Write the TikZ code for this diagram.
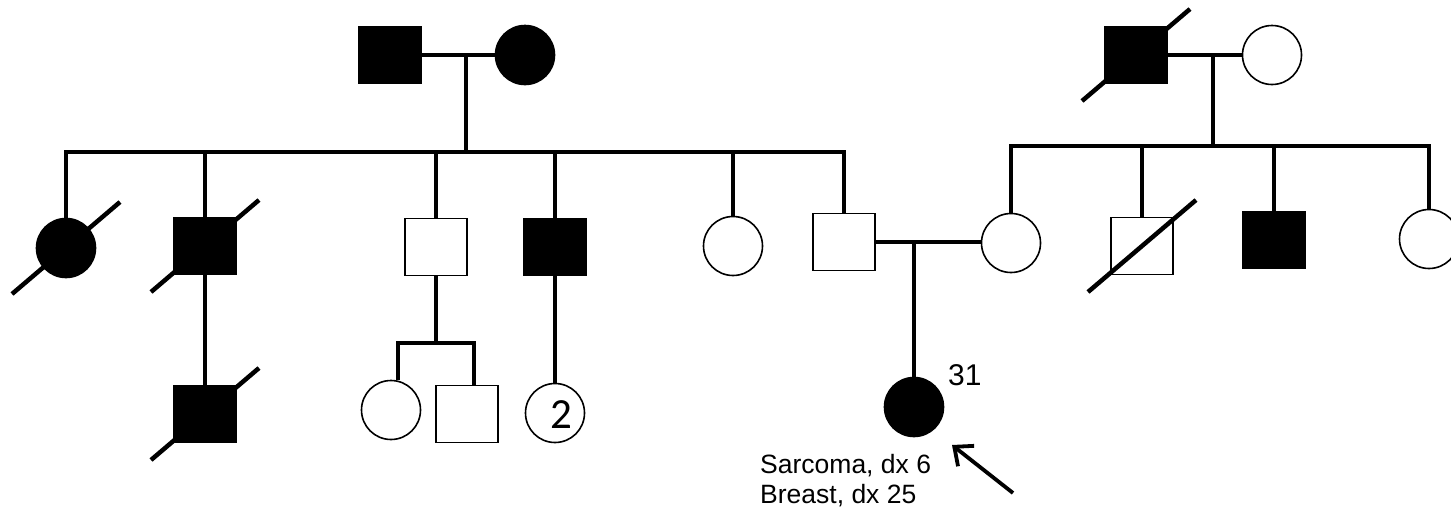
\documentclass[tikz,border=0pt]{standalone}
\usepackage{fontspec}
\setmainfont{Liberation Sans}
\newfontfamily\carlitofont{Carlito}
\usetikzlibrary{arrows.meta,calc}
\newcommand\deceasedmark[1]{\draw[slashline] ($(#1)+(-54,46)$) -- ($(#1)+(54,-46)$);}
\begin{document}
\begin{tikzpicture}[x=1pt,y=-1pt,
  male/.style={draw, line width=1.6pt, rectangle, fill=white, minimum width=62pt, minimum height=57pt, inner sep=0pt},
  female/.style={draw, line width=1.6pt, circle, fill=white, minimum size=59pt, inner sep=0pt},
  aff/.style={fill=black},
  link/.style={line width=4pt},
  sib/.style={line width=4pt, line cap=rect},
  slashline/.style={line width=4.5pt},
  lbl/.style={font=\fontsize{26.5}{30}\selectfont, anchor=base west, inner sep=0pt}
]
\useasboundingbox (0,0) rectangle (1451,509);

% Generation I, left
\node[male,aff] (gf1) at (390,55) {};
\node[female,aff] (gm1) at (525,55) {};
\draw[link] (gf1.east) -- (gm1.west);
\coordinate (m1) at (466,55);
\coordinate (s1) at (466,152);
\draw[link] (m1) -- (s1);

% Generation I, right
\node[male,aff] (gf2) at (1136,55) {};
\node[female] (gm2) at (1272,55) {};
\draw[link] (gf2.east) -- (gm2.west);
\coordinate (m2) at (1213,55);
\coordinate (s2) at (1213,146);
\draw[link] (m2) -- (s2);
\deceasedmark{gf2}

% Generation II, left sibship
\node[female,aff] (a1) at (66,248) {};
\node[male,aff] (a2) at (205,246) {};
\node[male] (a3) at (436,247) {};
\node[male,aff] (a4) at (555,247) {};
\node[female] (a5) at (733,246) {};
\node[male] (a6) at (844,242) {};
\coordinate (s1l) at (66,152);
\coordinate (s1r) at (844,152);
\draw[sib] (s1l) -- (s1r);
\foreach \n in {a1,a2,a3,a4,a5,a6}{\draw[link] (\n.north |- s1l) -- (\n.north);}
\deceasedmark{a1}
\deceasedmark{a2}

% Generation II, right sibship
\node[female] (b1) at (1011,243) {};
\node[male] (b2) at (1142,246) {};
\node[male,aff] (b3) at (1274,240) {};
\node[female] (b4) at (1429,239) {};
\coordinate (s2l) at (1011,146);
\coordinate (s2r) at (1429,146);
\draw[sib] (s2l) -- (s2r);
\foreach \n in {b1,b2,b3,b4}{\draw[link] (\n.north |- s2l) -- (\n.north);}
\deceasedmark{b2}

% Couple a6 -- b1 and proband
\draw[link] (a6.east) -- (a6.east -| b1.west);
\coordinate (m3) at (914,242);
\node[female,aff] (p) at (914,407) {};
\draw[link] (m3) -- (p.north);
\node[font=\fontsize{30}{32}\selectfont, anchor=base west, inner sep=0pt] (age) at (948,385) {31};
\coordinate (arrtail) at (1013,493);
\coordinate (arrtip) at (952,445);
\draw[line width=3.8pt, -{Straight Barb[length=15pt,width=26pt]}] (arrtail) -- (arrtip);
\node[lbl] (dx1) at (760,473) {Sarcoma, dx 6};
\node[lbl] (dx2) at (760,503) {Breast, dx 25};

% Generation III
\node[male,aff] (c1) at (205,414) {};
\draw[link] (a2.south) -- (c1.north);
\deceasedmark{c1}

\node[female] (c2) at (391,410) {};
\node[male] (c3) at (467,414) {};
\coordinate (s3) at (436,343);
\coordinate (s3l) at (398,343);
\coordinate (s3r) at (474,343);
\draw[link] (a3.south) -- (s3);
\draw[sib] (s3l) -- (s3r);
\draw[link] (s3l) -- (s3l |- c2.north);
\draw[link] (s3r) -- (s3r |- c3.north);

\node[female] (c4) at (555,413) {};
\draw[link] (a4.south) -- (c4.north);
\node[font=\carlitofont\fontsize{43}{43}\selectfont, inner sep=0pt] (c4n) at (561,415) {2};
\end{tikzpicture}
\end{document}
